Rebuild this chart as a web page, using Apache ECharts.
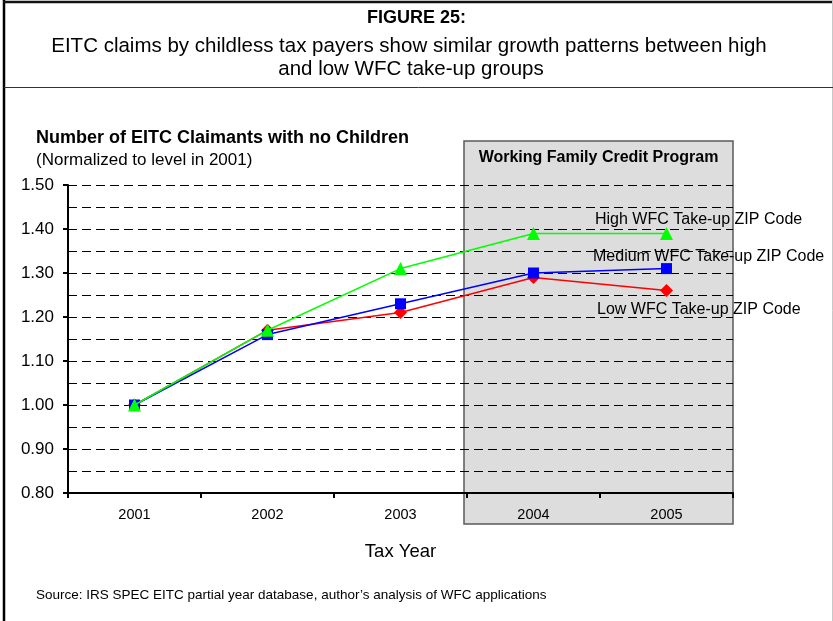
<!DOCTYPE html>
<html>
<head>
<meta charset="utf-8">
<script src="https://cdn.jsdelivr.net/npm/echarts@6/dist/echarts.min.js"></script>
<style>
html,body{margin:0;padding:0;background:#fff;}
#chart{width:833px;height:621px;}
</style>
</head>
<body>
<div id="chart"></div>
<script>
const categories = ['2001', '2002', '2003', '2004', '2005'];
const highValues = [1.00, 1.17, 1.31, 1.39, 1.39];
const mediumValues = [1.00, 1.16, 1.23, 1.30, 1.31];
const lowValues = [1.00, 1.17, 1.21, 1.29, 1.26];
const seriesNames = ['High WFC Take-up ZIP Code', 'Medium WFC Take-up ZIP Code', 'Low WFC Take-up ZIP Code'];
const programStartYear = '2004';
const programLabel = 'Working Family Credit Program';
const figureTitle = 'FIGURE 25:';
const subtitleLines = ['EITC claims by childless tax payers show similar growth patterns between high', 'and low WFC take-up groups'];
const yTitle = 'Number of EITC Claimants with no Children';
const ySubTitle = '(Normalized to level in 2001)';
const xTitle = 'Tax Year';
const sourceNote = 'Source: IRS SPEC EITC partial year database, author\u2019s analysis of WFC applications';
const yMin = 0.80, yMax = 1.50, yStep = 0.10;

const FONT = '"Liberation Sans", Arial, sans-serif';

function withEndLabel(values, label) {
  return values.map((v, i) => i === values.length - 1 ? { value: v, label: label } : v);
}

const chart = echarts.init(document.getElementById('chart'), null, { renderer: 'canvas' });

const option = {
  backgroundColor: '#ffffff',
  animation: false,
  textStyle: { fontFamily: FONT },
  title: [
    { text: figureTitle, left: 'center', top: 4,
      textStyle: { fontFamily: FONT, fontSize: 18, fontWeight: 'bold', color: '#000' } },
    { text: yTitle, left: 31, top: 124,
      textStyle: { fontFamily: FONT, fontSize: 18, fontWeight: 'bold', color: '#000' } },
    { text: ySubTitle, left: 31, top: 147,
      textStyle: { fontFamily: FONT, fontSize: 17, fontWeight: 'normal', color: '#000' } },
    { text: sourceNote, left: 31, top: 583,
      textStyle: { fontFamily: FONT, fontSize: 13.5, fontWeight: 'normal', color: '#000' } }
  ],
  grid: { left: 68, top: 185, width: 665, height: 308, containLabel: false },
  xAxis: {
    type: 'category',
    data: categories,
    boundaryGap: true,
    name: xTitle,
    nameLocation: 'middle',
    nameGap: 49,
    nameTextStyle: { fontFamily: FONT, fontSize: 18.5, color: '#000' },
    axisLine: { lineStyle: { color: '#000', width: 2 } },
    axisTick: { show: true, length: 5, lineStyle: { color: '#000', width: 2 } },
    axisLabel: { fontFamily: FONT, fontSize: 14.5, color: '#000', margin: 14 },
    splitLine: { show: false }
  },
  yAxis: {
    type: 'value',
    min: yMin, max: yMax, interval: yStep,
    axisLine: { show: true, lineStyle: { color: '#000', width: 2 } },
    axisTick: { show: true, length: 5, lineStyle: { color: '#000', width: 2 } },
    axisLabel: { fontFamily: FONT, fontSize: 17, color: '#000', margin: 14,
      formatter: v => v.toFixed(2) },
    splitLine: { show: true, lineStyle: { color: '#000', width: 1, type: [9, 5] } },
    minorTick: { show: false, splitNumber: 2 },
    minorSplitLine: { show: true, lineStyle: { color: '#000', width: 1, type: [9, 5] } }
  },
  series: [
    {
      name: seriesNames[2], type: 'line', z: 3,
      data: withEndLabel(lowValues, { show: true, formatter: seriesNames[2], position: 'right', offset: [-81, 19], fontFamily: FONT, fontSize: 16, color: '#000' }),
      symbol: 'diamond', symbolSize: 13, showAllSymbol: true,
      lineStyle: { color: '#ff0000', width: 1.5 },
      itemStyle: { color: '#ff0000' }
    },
    {
      name: seriesNames[1], type: 'line', z: 4,
      data: withEndLabel(mediumValues, { show: true, formatter: seriesNames[1], position: 'right', offset: [-84, -12], fontFamily: FONT, fontSize: 16, color: '#000' }),
      symbol: 'rect', symbolSize: 11, showAllSymbol: true,
      lineStyle: { color: '#0000ff', width: 1.5 },
      itemStyle: { color: '#0000ff' }
    },
    {
      name: seriesNames[0], type: 'line', z: 5,
      data: withEndLabel(highValues, { show: true, formatter: seriesNames[0], position: 'right', offset: [-83, -14], fontFamily: FONT, fontSize: 16, color: '#000' }),
      symbol: 'triangle', symbolSize: 13, showAllSymbol: true,
      lineStyle: { color: '#00ff00', width: 1.5 },
      itemStyle: { color: '#00ff00' }
    }
  ]
};

chart.setOption(option);

// Shaded program region, anchored to the category axis
const idx = categories.indexOf(programStartYear);
const cStart = chart.convertToPixel({ xAxisIndex: 0 }, categories[idx]);
const cNext = chart.convertToPixel({ xAxisIndex: 0 }, categories[idx + 1]);
const band = cNext - cStart;
const boxLeft = cStart - band / 2 - 3;
const boxRight = chart.convertToPixel({ xAxisIndex: 0 }, categories[categories.length - 1]) + band / 2;
const boxTop = 141, boxBottom = 524;

chart.setOption({
  graphic: [
    { type: 'rect', z: -10, silent: true,
      shape: { x: boxLeft, y: boxTop, width: boxRight - boxLeft, height: boxBottom - boxTop },
      style: { fill: '#dddddd', stroke: '#5a5a5a', lineWidth: 1.5 } },
    { type: 'text', z: 10, silent: true,
      style: { text: programLabel, x: (boxLeft + boxRight) / 2, y: 158, align: 'center', verticalAlign: 'middle',
        font: 'bold 16px ' + FONT, fill: '#000' } },
    { type: 'text', z: 10, silent: true,
      style: { text: subtitleLines[0], x: 409, y: 46, align: 'center', verticalAlign: 'middle',
        font: '20.5px ' + FONT, fill: '#000' } },
    { type: 'text', z: 10, silent: true,
      style: { text: subtitleLines[1], x: 411, y: 69, align: 'center', verticalAlign: 'middle',
        font: '20.5px ' + FONT, fill: '#000' } },
    // frame
    { type: 'line', z: 10, silent: true, shape: { x1: 4, y1: 0, x2: 4, y2: 621 }, style: { stroke: '#000', lineWidth: 2.5 } },
    { type: 'line', z: 10, silent: true, shape: { x1: 3, y1: 2, x2: 833, y2: 2 }, style: { stroke: '#111', lineWidth: 2.5 } },
    { type: 'line', z: 10, silent: true, shape: { x1: 832.5, y1: 0, x2: 832.5, y2: 621 }, style: { stroke: '#c8c8c8', lineWidth: 1 } },
    { type: 'line', z: 10, silent: true, shape: { x1: 4, y1: 87.5, x2: 833, y2: 87.5 }, style: { stroke: '#333', lineWidth: 1 } }
  ]
});
</script>
</body>
</html>
